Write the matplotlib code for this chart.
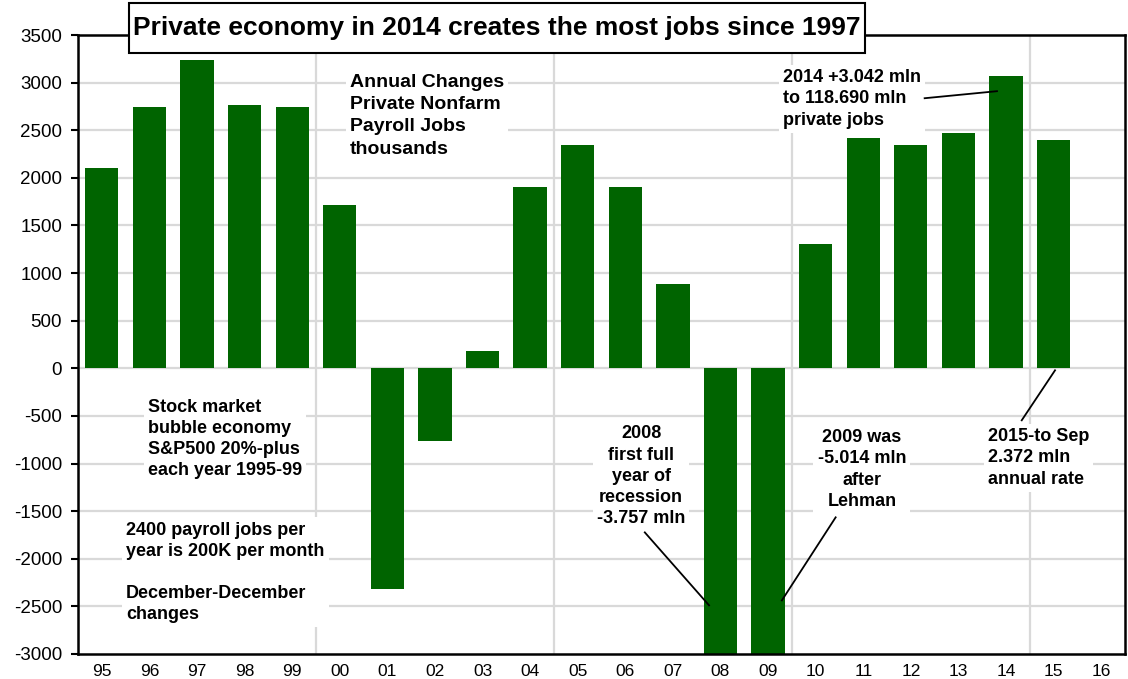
import matplotlib
matplotlib.use("Agg")
import matplotlib.pyplot as plt
from matplotlib.patches import Rectangle
import numpy as np

plt.rcParams['font.family'] = ['Liberation Sans', 'DejaVu Sans']
plt.rcParams['axes.unicode_minus'] = False

# Dec-Dec change in private nonfarm payrolls, thousands
years = ['95', '96', '97', '98', '99', '00', '01', '02', '03', '04', '05',
         '06', '07', '08', '09', '10', '11', '12', '13', '14', '15', '16']
changes = [2105, 2745, 3235, 2760, 2745, 1712, -2314, -764, 180, 1905, 2342,
           1905, 882, -3757, -5014, 1310, 2419, 2342, 2476, 3070, 2400]
yticks = list(range(-3000, 3501, 500))

green = '#006400'
grid = '#d9d9d9'

fig = plt.figure(figsize=(11.28, 6.79), dpi=100)
ax = fig.add_axes([78 / 1128, 1 - 654 / 679, (1125 - 78) / 1128, (654 - 35) / 679])

x = np.arange(len(years))
ax.bar(x[:len(changes)], changes, width=0.7, color=green, zorder=2)

ax.set_xlim(-0.5, len(years) - 0.5)
ax.set_ylim(-3000, 3500)
ax.set_yticks(yticks)
ax.set_yticklabels([str(v) for v in yticks])
ax.set_xticks(x)
ax.set_xticklabels(years)

# gridlines: every 500 horizontally, every 5 years vertically
for v in yticks[1:-1]:
    ax.axhline(v, color=grid, lw=1.6, zorder=0)
for b in [4.5, 9.5, 14.5, 19.5]:
    ax.axvline(b, color=grid, lw=1.6, zorder=0)

for s in ax.spines.values():
    s.set_color('black')
    s.set_linewidth(1.8)
ax.tick_params(axis='y', labelsize=13.5, length=5, width=1.5, pad=6.5, colors='black')
ax.tick_params(axis='x', labelsize=12.5, length=0, pad=7)

box = dict(facecolor='white', edgecolor='none', pad=3)
kw = dict(fontsize=13, fontweight='bold', va='top', bbox=box, zorder=4, linespacing=1.32)

ax.text(5.21, 3095, 'Annual Changes\nPrivate Nonfarm\nPayroll Jobs\nthousands',
        fontsize=14, fontweight='bold', va='top', bbox=box, zorder=4, linespacing=1.42)
ax.text(0.97, -320, 'Stock market\nbubble economy\nS&P500 20%-plus\neach year 1995-99', **kw)
ax.text(0.51, -1610, '2400 payroll jobs per\nyear is 200K per month\n\nDecember-December\nchanges', **kw)
ax.text(11.33, -600, '2008\nfirst full\nyear of\nrecession\n-3.757 mln', ha='center',
        multialignment='center', **kw)
ax.text(15.97, -640, '2009 was\n-5.014 mln\nafter\nLehman', ha='center',
        multialignment='center', **kw)
ax.text(14.31, 3140, '2014 +3.042 mln\nto 118.690 mln\nprivate jobs', **kw)
ax.text(18.62, -630, '2015-to Sep\n2.372 mln\nannual rate', **kw)

# connector lines
ax.plot([11.41, 12.76], [-1723, -2489], color='black', lw=1.3, zorder=5)
ax.plot([15.42, 14.29], [-1565, -2437], color='black', lw=1.3, zorder=5)
ax.plot([17.29, 18.81], [2836, 2910], color='black', lw=1.3, zorder=5)
ax.plot([19.33, 20.03], [-546, -21], color='black', lw=1.3, zorder=5)

# title in a framed box
fig.patches.append(Rectangle((129 / 1128, 1 - 53 / 679), 736 / 1128, 50 / 679,
                             transform=fig.transFigure, facecolor='white',
                             edgecolor='black', linewidth=1.5, zorder=9))
fig.text(497 / 1128, 1 - 28 / 679, 'Private economy in 2014 creates the most jobs since 1997',
         fontsize=19, fontweight='bold', ha='center', va='center', zorder=10)

fig.savefig('out.png', dpi=100)
